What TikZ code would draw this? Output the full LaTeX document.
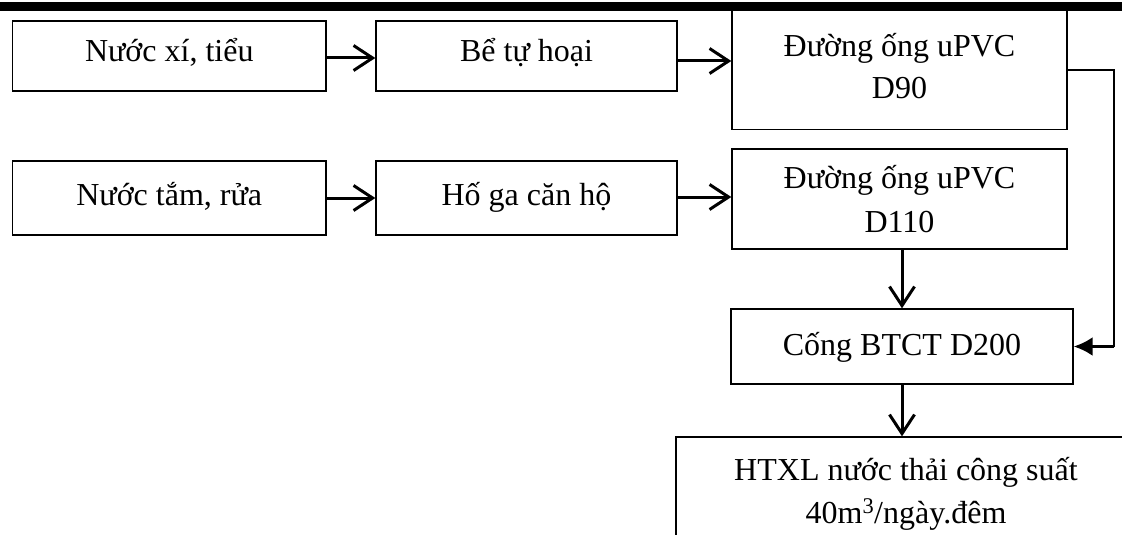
\documentclass[tikz,border=0pt]{standalone}
\usepackage{fontspec}
\setmainfont{Liberation Serif}
\usetikzlibrary{arrows.meta}
\begin{document}
\begin{tikzpicture}[x=1pt,y=-1pt,
  box/.style={draw, line width=1.4pt, inner sep=0pt},
  lbl/.style={anchor=base, inner sep=0pt, font=\fontsize{32}{44}\selectfont},
  flow/.style={line width=3pt, -{Straight Barb[length=19pt,width=25pt,line width=3pt]}},
  link/.style={line width=1.4pt},
  feed/.style={line width=2.8pt, -{Latex[length=19pt,width=19pt]}}
]
\clip (0,0) rectangle (1122,535);
\fill[white] (0,0) rectangle (1122,535);

% header rule
\fill[black] (0,2) rectangle (1122,11);

% row 1
\node[box, minimum width=313.5pt, minimum height=70pt] (b1) at (169.25,56) {};
\node[box, minimum width=301pt, minimum height=70pt] (b2) at (526.5,56) {};
\node[box, minimum width=335pt, minimum height=119pt] (b3) at (899.5,70) {};
\node[lbl] (t1) at (169.25,62) {Nước xí, tiểu};
\node[lbl] (t2) at (526.5,62) {Bể tự hoại};
\node[lbl] (t3a) at (899.5,57) {Đường ống uPVC};
\node[lbl] (t3b) at (899.5,99) {D90};

% row 2
\node[box, minimum width=313.5pt, minimum height=74pt] (b4) at (169.25,198) {};
\node[box, minimum width=301pt, minimum height=74pt] (b5) at (526.5,198) {};
\node[box, minimum width=335pt, minimum height=100pt] (b6) at (899.5,199) {};
\node[lbl] (t4) at (169.25,205) {Nước tắm, rửa};
\node[lbl] (t5) at (526.5,205) {Hố ga căn hộ};
\node[lbl] (t6a) at (899.5,188) {Đường ống uPVC};
\node[lbl] (t6b) at (899.5,232) {D110};

% collector and treatment plant
\node[box, minimum width=342pt, minimum height=75pt] (cong) at (902,346.5) {};
\node[lbl] (tc) at (902,355) {Cống BTCT D200};
\node[box, minimum width=460pt, minimum height=123pt] (ht) at (906,498.5) {};
\node[lbl] (th1) at (906,480) {HTXL nước thải công suất};
\node[lbl] (th2) at (906,523) {40m\textsuperscript{3}/ngày.đêm};

% flow arrows
\draw[flow] ([yshift=-2pt]b1.east) -- ([yshift=-2pt]b1.east -| b2.west);
\draw[flow] ([yshift=-5pt]b2.east) -- ([yshift=-5pt]b2.east -| b3.west);
\draw[flow] (b4.east) -- (b4.east -| b5.west);
\draw[flow] ([yshift=1pt]b5.east) -- ([yshift=1pt]b5.east -| b6.west);
\draw[flow] (cong.north |- b6.south) -- (cong.north);
\draw[flow] (cong.south) -- (cong.south |- ht.north);

% bypass from the D90 pipe down to the collector
\coordinate (f1) at (1114,70);
\coordinate (f2) at (f1 |- cong.east);
\draw[link] (b3.east) -- (f1) -- (f2);
\draw[feed] (f2) -- (cong.east);
\end{tikzpicture}
\end{document}
